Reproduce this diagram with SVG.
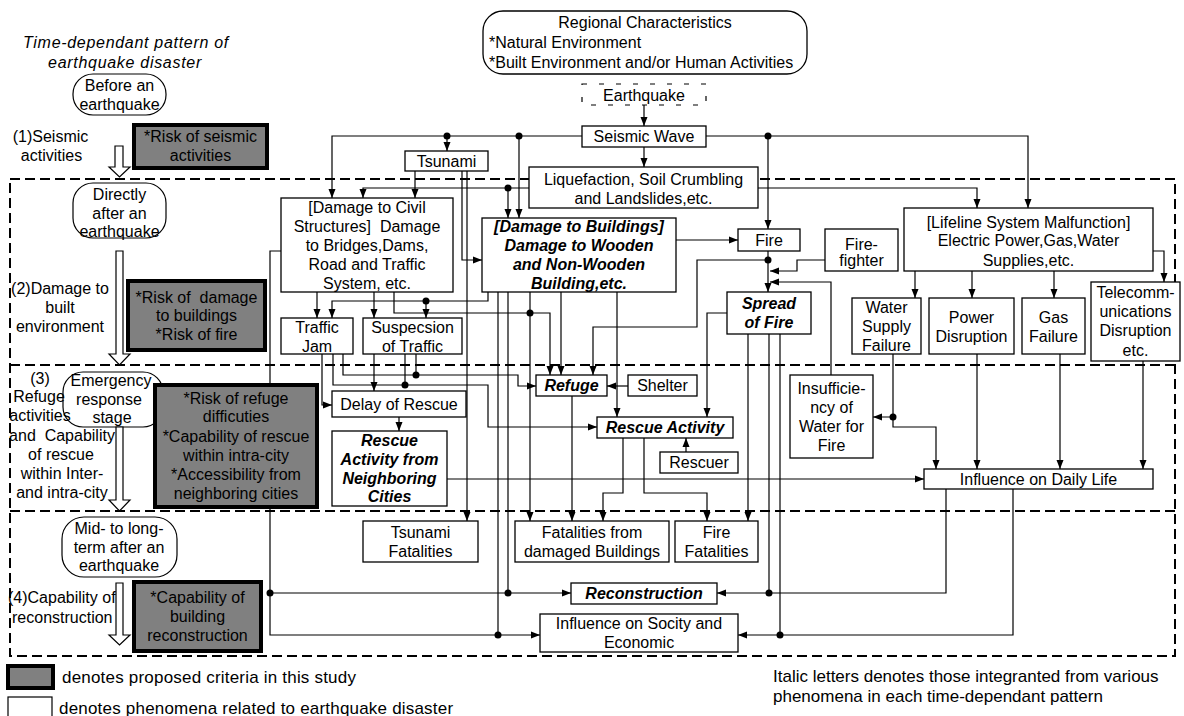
<svg xmlns="http://www.w3.org/2000/svg" width="1184" height="716" viewBox="0 0 1184 716">
<defs>
<style>
text{font-family:"Liberation Sans",Arial,sans-serif;font-size:16px;fill:#000}
.c{text-anchor:middle}
.bi{font-weight:bold;font-style:italic}
.it{font-style:italic}
.box{fill:#fff;stroke:#000;stroke-width:1.3}
.gray{fill:#808080;stroke:#000;stroke-width:4}
.stage{fill:#fff;stroke:#000;stroke-width:1.2}
.hol{fill:#fff;stroke:#000;stroke-width:1.2}
.band{fill:none;stroke:#000;stroke-width:2;stroke-dasharray:10 5}
#connectors path{fill:none;stroke:#000;stroke-width:1.2}
#connectors path.a{marker-end:url(#ah)}
#connectors circle{fill:#000}
.lg{font-size:17px}
</style>
<marker id="ah" markerUnits="userSpaceOnUse" markerWidth="10" markerHeight="8" refX="9" refY="4" orient="auto"><path d="M0,0.5 L9,4 L0,7.5 z" fill="#000"/></marker>
</defs>
<rect width="1184" height="716" fill="#fff"/>

<g id="bands">
<path class="band" d="M10,179 H1175 V656 H10 Z M10,365 H1175 M10,511 H1175"/>
</g>

<g id="connectors">
<path class="a" d="M644,105 V126"/>
<path class="a" d="M644,147 V167"/>
<path class="a" d="M582,136 H332 V198"/>
<path class="a" d="M447,136 V151"/>
<path class="a" d="M519,136 V218"/>
<path class="a" d="M706,136 H1028 V208"/>
<path class="a" d="M768,136 V229"/>
<path class="a" d="M529,188 H363 V198"/>
<path class="a" d="M508,188 V218"/>
<path class="a" d="M758,188 H977 V208"/>
<path class="a" d="M415,171 V198"/>
<path class="a" d="M462,171 V260 H482"/>
<path class="a" d="M467,171 V521"/>
<path class="a" d="M317,292 V318"/>
<path class="a" d="M374,292 V318"/>
<path class="a" d="M488,292 V301 H332 V318"/>
<path class="a" d="M426,301 V318"/>
<path class="a" d="M394,292 V313 H550 V375"/>
<path class="a" d="M281,251 H270 V635 H540"/>
<path class="a" d="M270,593 H571"/>
<path class="a" d="M676,240 H738"/>
<path class="a" d="M530,292 V521"/>
<path class="a" d="M561,292 V375"/>
<path class="a" d="M617,292 V417"/>
<path class="a" d="M322,354 V405 H332"/>
<path class="a" d="M333,354 V385 H488 V427 H597"/>
<path class="a" d="M343,354 V375 H518 V386 H536"/>
<path class="a" d="M374,354 V391"/>
<path class="a" d="M399,417 V431"/>
<path class="a" d="M447,479 H924"/>
<path class="a" d="M768,251 V292"/>
<path class="a" d="M768,260 H697 V327 H593 V375"/>
<path class="a" d="M825,260 H797 V271 H770"/>
<path class="a" d="M831,375 V282 H770"/>
<path class="a" d="M727,313 H707 V417"/>
<path class="a" d="M748,334 V521"/>
<path class="a" d="M946,489 V593 H717"/>
<path class="a" d="M1013,489 V635 H738"/>
<path class="a" d="M628,386 H607"/>
<path class="a" d="M572,396 V521"/>
<path class="a" d="M623,438 V493 H603 V521"/>
<path class="a" d="M644,438 V493 H707 V521"/>
<path class="a" d="M686,452 V438"/>
<path class="a" d="M915,271 V298"/>
<path class="a" d="M972,271 V298"/>
<path class="a" d="M1054,271 V298"/>
<path class="a" d="M1153,251 H1164 V282"/>
<path class="a" d="M893,354 V417 H873"/>
<path class="a" d="M893,417 V427 H936 V469"/>
<path class="a" d="M977,354 V469"/>
<path class="a" d="M1060,354 V469"/>
<path class="a" d="M1143,361 V469"/>
<path d="M498,292 V635"/>
<path d="M508,292 V593"/>
<path d="M769,334 V593"/>
<path d="M780,334 V635"/>
<path d="M405,354 V385"/>
<path d="M416,354 V375"/>
<circle cx="447" cy="136" r="3.5"/>
<circle cx="519" cy="136" r="3.5"/>
<circle cx="768" cy="136" r="3.5"/>
<circle cx="508" cy="188" r="3.5"/>
<circle cx="426" cy="301" r="3.5"/>
<circle cx="530" cy="313" r="3.5"/>
<circle cx="270" cy="593" r="3.5"/>
<circle cx="508" cy="593" r="3.5"/>
<circle cx="498" cy="635" r="3.5"/>
<circle cx="768" cy="260" r="3.5"/>
<circle cx="769" cy="593" r="3.5"/>
<circle cx="780" cy="635" r="3.5"/>
<circle cx="405" cy="385" r="3.5"/>
<circle cx="416" cy="375" r="3.5"/>
<circle cx="893" cy="417" r="3.5"/>
</g>

<g id="stages">
<text class="c it" x="126" y="48" style="letter-spacing:0.7px">Time-dependant pattern of</text>
<text class="c it" x="125" y="68" style="letter-spacing:0.7px">earthquake disaster</text>
<g id="stage-before"><rect class="stage" x="73" y="74" width="93" height="41" rx="20"/><text class="c" x="119.5" y="90.5">Before an</text><text class="c" x="119.5" y="109.5">earthquake</text></g>
<text class="c" x="50.5" y="142">(1)Seismic</text>
<text class="c" x="51.5" y="161">activities</text>
<path class="hol" d="M115,146 H123 V167 H130 L119.5,177 L109,167 H115 Z"/>
<g id="stage-directly"><rect class="stage" x="73" y="183" width="93" height="55" rx="20"/><text class="c" x="119.5" y="200">Directly</text><text class="c" x="119.5" y="218.5">after an</text><text class="c" x="119.5" y="237">earthquake</text></g>
<path class="hol" d="M116,251 H123 V354 H130 L119.5,365 L109,354 H116 Z"/>
<text class="c" x="60" y="294">(2)Damage to</text>
<text class="c" x="60" y="313">built</text>
<text class="c" x="60" y="332">environment</text>
<g id="stage-emergency"><rect class="stage" x="63" y="372" width="100" height="55" rx="20"/><text class="c" x="111" y="386">Emergency</text><text class="c" x="109" y="404.5">response</text><text class="c" x="112" y="423">stage</text></g>
<text class="c" x="40" y="383.5">(3)</text>
<text class="c" x="39" y="401.5">Refuge</text>
<text class="c" x="40" y="420.5">activities</text>
<text class="c" x="62" y="440.5">and&#160; Capability</text>
<text class="c" x="61" y="459.5">of rescue</text>
<text class="c" x="62" y="478.5">within Inter-</text>
<text class="c" x="62" y="497.5">and intra-city</text>
<path class="hol" d="M116,427 H123 V500 H130 L119.5,511 L109,500 H116 Z"/>
<g id="stage-mid"><rect class="stage" x="62" y="517" width="115" height="60" rx="22"/><text class="c" x="119" y="534">Mid- to long-</text><text class="c" x="119" y="552.5">term after an</text><text class="c" x="119" y="571">earthquake</text></g>
<text x="8" y="603">(4)Capability of</text>
<text x="12" y="622.5">reconstruction</text>
<path class="hol" d="M116,583 H123 V635 H130 L119.5,645 L109,635 H116 Z"/>
</g>

<g id="criteria-1"><rect class="gray" x="134" y="125" width="133" height="43"/><text class="c" x="200.5" y="142">*Risk of seismic</text><text class="c" x="200.5" y="161">activities</text></g>
<g id="criteria-2"><rect class="gray" x="128" y="281" width="137" height="69"/><text class="c" x="196.5" y="302.5">*Risk of&#160; damage</text><text class="c" x="196.5" y="321">to buildings</text><text class="c" x="196.5" y="340">*Risk of fire</text></g>
<g id="criteria-3"><rect class="gray" x="155" y="385" width="162" height="122"/><text class="c" x="236" y="403.5">*Risk of refuge</text><text class="c" x="236" y="422">difficuties</text><text class="c" x="236" y="441.5">*Capability of rescue</text><text class="c" x="236" y="460.5">within intra-city</text><text class="c" x="236" y="480">*Accessibility from</text><text class="c" x="236" y="499">neighboring cities</text></g>
<g id="criteria-4"><rect class="gray" x="134" y="582" width="127" height="69"/><text class="c" x="197.5" y="602.5">*Capability of</text><text class="c" x="197.5" y="621.5">building</text><text class="c" x="197.5" y="641">reconstruction</text></g>

<g id="regional"><rect class="box" x="483" y="11" width="324" height="63" rx="20"/><text class="c" x="645" y="28">Regional Characteristics</text><text x="489" y="48">*Natural Environment</text><text x="489" y="67.5">*Built Environment and/or Human Activities</text></g>
<g id="earthquake"><rect x="582" y="84" width="124" height="21" fill="#fff" stroke="#000" stroke-width="1.2" stroke-dasharray="5 12"/><text class="c" x="644" y="100.5">Earthquake</text></g>
<g id="seismic-wave"><rect class="box" x="582" y="126" width="124" height="21"/><text class="c" x="644" y="142">Seismic Wave</text></g>
<g id="tsunami"><rect class="box" x="405" y="151" width="83" height="20"/><text class="c" x="446.5" y="166.5">Tsunami</text></g>
<g id="liquefaction"><rect class="box" x="529" y="167" width="229" height="41"/><text class="c" x="643.5" y="184.5">Liquefaction, Soil Crumbling</text><text class="c" x="643.5" y="204">and Landslides,etc.</text></g>
<g id="civil"><rect class="box" x="281" y="198" width="172" height="94"/><text class="c" x="367" y="212.5">[Damage to Civil</text><text class="c" x="367" y="231.5">Structures]&#160; Damage</text><text class="c" x="367" y="250.5">to Bridges,Dams,</text><text class="c" x="367" y="269.5">Road and Traffic</text><text class="c" x="367" y="289">System, etc.</text></g>
<g id="buildings"><rect class="box" x="482" y="218" width="194" height="74"/><text class="c bi" x="579" y="232">[Damage to Buildings]</text><text class="c bi" x="579" y="251">Damage to Wooden</text><text class="c bi" x="579" y="270">and Non-Wooden</text><text class="c bi" x="579" y="288.5">Building,etc.</text></g>
<g id="fire"><rect class="box" x="738" y="229" width="62" height="22"/><text class="c" x="769" y="245.5">Fire</text></g>
<g id="firefighter"><rect class="box" x="825" y="229" width="73" height="42"/><text class="c" x="861.5" y="249.5">Fire-</text><text class="c" x="861.5" y="265.5">fighter</text></g>
<g id="lifeline"><rect class="box" x="904" y="208" width="249" height="63"/><text class="c" x="1028.5" y="227.5">[Lifeline System Malfunction]</text><text class="c" x="1028.5" y="246">Electric Power,Gas,Water</text><text class="c" x="1028.5" y="266">Supplies,etc.</text></g>
<g id="traffic-jam"><rect class="box" x="281" y="318" width="72" height="36"/><text class="c" x="317" y="332.5">Traffic</text><text class="c" x="317" y="351.5">Jam</text></g>
<g id="suspension"><rect class="box" x="363" y="318" width="99" height="36"/><text class="c" x="412.5" y="332.5">Suspecsion</text><text class="c" x="412.5" y="351.5">of Traffic</text></g>
<g id="spread-fire"><rect class="box" x="727" y="292" width="84" height="42"/><text class="c bi" x="769" y="308.5">Spread</text><text class="c bi" x="769" y="327.5">of Fire</text></g>
<g id="water-supply"><rect class="box" x="852" y="298" width="69" height="56"/><text class="c" x="886.5" y="312.5">Water</text><text class="c" x="886.5" y="331.5">Supply</text><text class="c" x="886.5" y="350.5">Failure</text></g>
<g id="power"><rect class="box" x="929" y="298" width="85" height="56"/><text class="c" x="971.5" y="322.5">Power</text><text class="c" x="971.5" y="341.5">Disruption</text></g>
<g id="gas"><rect class="box" x="1022" y="298" width="63" height="56"/><text class="c" x="1053.5" y="322.5">Gas</text><text class="c" x="1053.5" y="341.5">Failure</text></g>
<g id="telecom"><rect class="box" x="1091" y="282" width="89" height="79"/><text class="c" x="1135.5" y="297.5">Telecomm-</text><text class="c" x="1135.5" y="316.5">unications</text><text class="c" x="1135.5" y="335.5">Disruption</text><text class="c" x="1135.5" y="356">etc.</text></g>
<g id="refuge"><rect class="box" x="536" y="375" width="71" height="21"/><text class="c bi" x="571.5" y="391">Refuge</text></g>
<g id="shelter"><rect class="box" x="628" y="375" width="69" height="21"/><text class="c" x="662.5" y="391">Shelter</text></g>
<g id="delay"><rect class="box" x="332" y="391" width="134" height="26"/><text class="c" x="399" y="409.5">Delay of Rescue</text></g>
<g id="rescue"><rect class="box" x="597" y="417" width="136" height="21"/><text class="c bi" x="665" y="433">Rescue Activity</text></g>
<g id="rescuer"><rect class="box" x="660" y="452" width="78" height="21"/><text class="c" x="699" y="468">Rescuer</text></g>
<g id="insufficiency"><rect class="box" x="790" y="375" width="83" height="83"/><text class="c" x="831.5" y="393.5">Insufficie-</text><text class="c" x="831.5" y="412.5">ncy of</text><text class="c" x="831.5" y="432">Water for</text><text class="c" x="831.5" y="450.5">Fire</text></g>
<g id="neighboring"><rect class="box" x="332" y="431" width="115" height="75"/><text class="c bi" x="389.5" y="445.5">Rescue</text><text class="c bi" x="389.5" y="464.5">Activity from</text><text class="c bi" x="389.5" y="483.5">Neighboring</text><text class="c bi" x="389.5" y="502">Cities</text></g>
<g id="daily-life"><rect class="box" x="924" y="469" width="229" height="20"/><text class="c" x="1038.5" y="484.5">Influence on Daily Life</text></g>
<g id="tsunami-fatalities"><rect class="box" x="363" y="521" width="115" height="41"/><text class="c" x="420.5" y="537.5">Tsunami</text><text class="c" x="420.5" y="556.5">Fatalities</text></g>
<g id="building-fatalities"><rect class="box" x="515" y="521" width="154" height="41"/><text class="c" x="592" y="537.5">Fatalities from</text><text class="c" x="592" y="556.5">damaged Buildings</text></g>
<g id="fire-fatalities"><rect class="box" x="675" y="521" width="83" height="41"/><text class="c" x="716.5" y="537.5">Fire</text><text class="c" x="716.5" y="556.5">Fatalities</text></g>
<g id="reconstruction"><rect class="box" x="571" y="583" width="146" height="21"/><text class="c bi" x="644" y="599">Reconstruction</text></g>
<g id="society"><rect class="box" x="540" y="614" width="198" height="38"/><text class="c" x="639" y="628.5">Influence on Socity and</text><text class="c" x="639" y="647.5">Economic</text></g>

<g id="legend">
<rect class="gray" x="8" y="666" width="45" height="22"/>
<text class="lg" x="62" y="682.5" style="letter-spacing:0.2px">denotes proposed criteria in this study</text>
<rect x="8" y="697" width="44" height="26" fill="#fff" stroke="#000" stroke-width="1.2"/>
<text class="lg" x="59" y="713.5" style="letter-spacing:0.2px">denotes phenomena related to earthquake disaster</text>
<text class="lg" x="773" y="682">Italic letters denotes those integranted from various</text>
<text class="lg" x="773" y="702">phenomena in each time-dependant pattern</text>
</g>
</svg>
